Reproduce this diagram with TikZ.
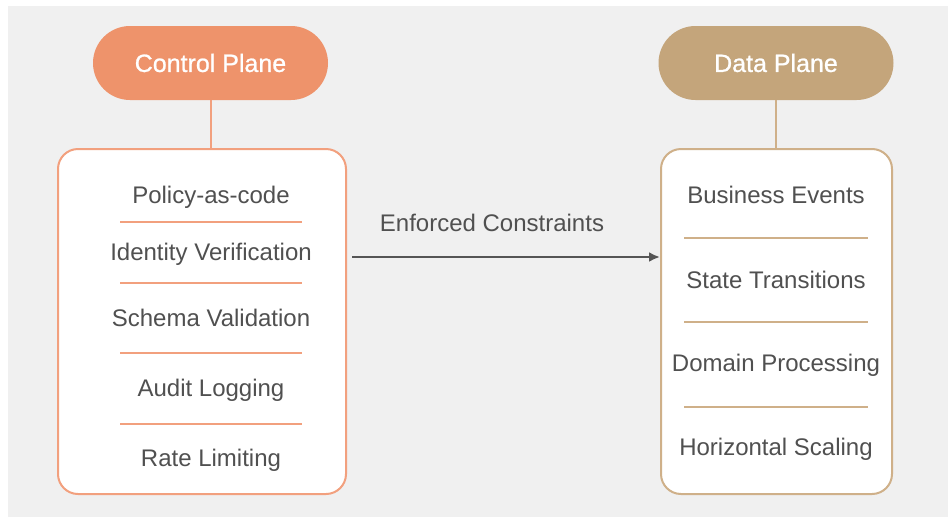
\documentclass[tikz,border=0pt]{standalone}
\usepackage{fontspec}
\setmainfont{Liberation Sans}
\newfontface\titlefont{Liberation Sans}[FakeBold=0.9]
\usetikzlibrary{arrows.meta}
\definecolor{bg}{HTML}{F0F0F0}
\definecolor{ctrl}{HTML}{EE936B}
\definecolor{ctrlline}{HTML}{F2A07E}
\definecolor{data}{HTML}{C4A57B}
\definecolor{dataline}{HTML}{CFB089}
\definecolor{txt}{HTML}{505050}
\definecolor{arr}{HTML}{555555}
\tikzset{
  pill/.style={rounded corners=37pt, minimum width=235pt, minimum height=74pt,
    inner sep=0pt, text=white, font=\titlefont\fontsize{25}{30}\selectfont},
  panel/.style={draw, fill=white, rounded corners=20pt, line width=2pt, inner sep=0pt},
  item/.style={text=txt, font=\fontsize{24}{28}\selectfont, inner sep=0pt,
    text height=17.2pt, text depth=0pt},
  sep/.style={line width=2.5pt},
  link/.style={line width=2.2pt},
  arrowline/.style={draw=arr, line width=2.8pt, -{Latex[length=11pt,width=10pt]}},
}
\begin{document}
\begin{tikzpicture}[x=1pt,y=-1pt]
\useasboundingbox (0,0) rectangle (948,517);
\fill[bg] (8,6) rectangle (948,517);

% Control plane
\node[pill, fill=ctrl] (cpill) at (210.5,63) {Control Plane};
\node[panel, draw=ctrlline, minimum width=288pt, minimum height=345pt] (cbox) at (202,321.5) {};
\draw[link, ctrlline] (cpill.south -| 211,0) -- (cbox.north -| 211,0);
\node[item] (c1) at (211,195) {Policy-as-code};
\node[item] (c2) at (211,252) {Identity Verification};
\node[item] (c3) at (211,318) {Schema Validation};
\node[item] (c4) at (211,388) {Audit Logging};
\node[item] (c5) at (211,458) {Rate Limiting};
\coordinate (cs1l) at (120,222); \coordinate (cs1r) at (302,222);
\coordinate (cs2l) at (120,283); \coordinate (cs2r) at (302,283);
\coordinate (cs3l) at (120,353); \coordinate (cs3r) at (302,353);
\coordinate (cs4l) at (120,424); \coordinate (cs4r) at (302,424);
\draw[sep, ctrlline] (cs1l) -- (cs1r);
\draw[sep, ctrlline] (cs2l) -- (cs2r);
\draw[sep, ctrlline] (cs3l) -- (cs3r);
\draw[sep, ctrlline] (cs4l) -- (cs4r);

% Data plane
\node[pill, fill=data] (dpill) at (776,63) {Data Plane};
\node[panel, draw=dataline, minimum width=231pt, minimum height=345pt] (dbox) at (776.5,321.5) {};
\draw[link, dataline] (dpill.south -| 776,0) -- (dbox.north -| 776,0);
\node[item] (d1) at (776,195) {Business Events};
\node[item] (d2) at (776,280) {State Transitions};
\node[item] (d3) at (776,363) {Domain Processing};
\node[item] (d4) at (776,447) {Horizontal Scaling};
\coordinate (ds1l) at (684,238); \coordinate (ds1r) at (868,238);
\coordinate (ds2l) at (684,322); \coordinate (ds2r) at (868,322);
\coordinate (ds3l) at (684,407); \coordinate (ds3r) at (868,407);
\draw[sep, dataline] (ds1l) -- (ds1r);
\draw[sep, dataline] (ds2l) -- (ds2r);
\draw[sep, dataline] (ds3l) -- (ds3r);

% Arrow
\coordinate (arrowy) at (500,257);
\draw[arrowline, shorten <=5pt] (cbox.east |- arrowy) -- (dbox.west |- arrowy);
\node[item] (lbl) at (492,223) {Enforced Constraints};
\end{tikzpicture}
\end{document}
